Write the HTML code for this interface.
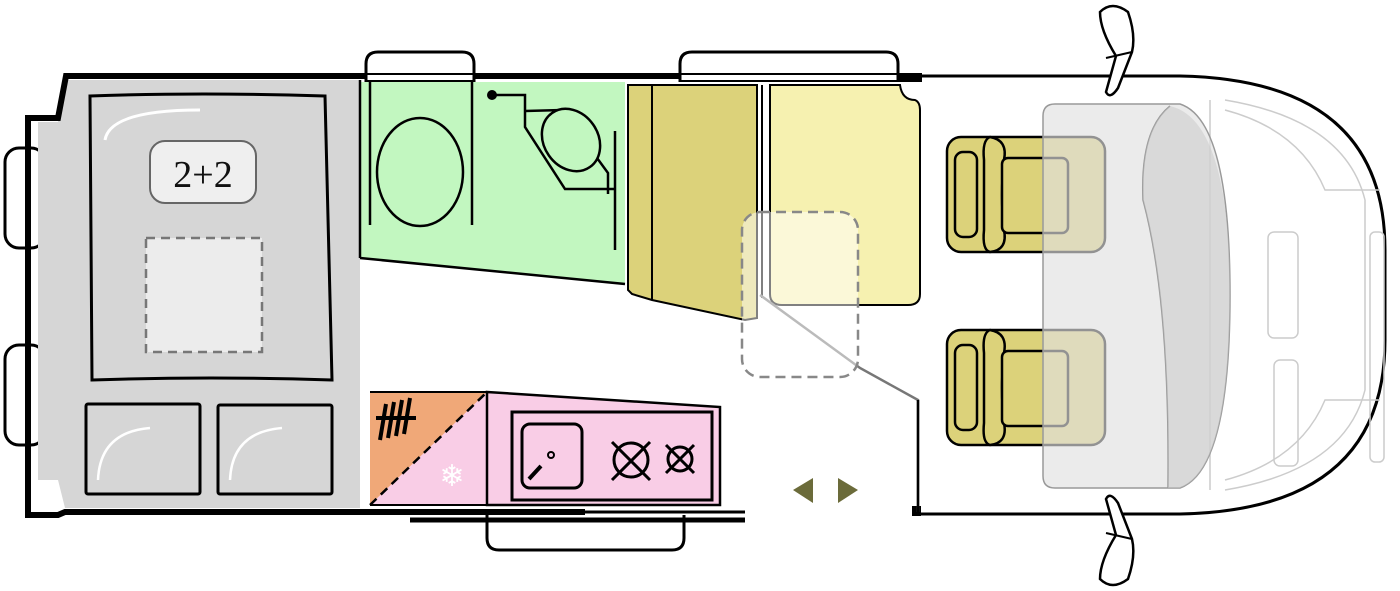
<!DOCTYPE html>
<html><head><meta charset="utf-8"><style>
html,body{margin:0;padding:0;background:#fff;width:1400px;height:591px;overflow:hidden}
svg{display:block}
</style></head><body>
<svg width="1400" height="591" viewBox="0 0 1400 591" xmlns="http://www.w3.org/2000/svg">
<!-- left bumps -->
<rect x="5" y="148" width="40" height="100" rx="14" fill="#fff" stroke="#000" stroke-width="3"/>
<rect x="5" y="345" width="40" height="100" rx="14" fill="#fff" stroke="#000" stroke-width="3"/>
<!-- top bumps -->
<path d="M366 82 V64 Q366 52 378 52 H462 Q474 52 474 64 V82" fill="#fff" stroke="#000" stroke-width="3"/>
<path d="M680 82 V64 Q680 52 692 52 H886 Q898 52 898 64 V82" fill="#fff" stroke="#000" stroke-width="3"/>
<!-- bottom bump -->
<path d="M487 515 V538 Q487 550 499 550 H672 Q684 550 684 538 V515" fill="#fff" stroke="#000" stroke-width="3"/>
<!-- cab outline -->
<path d="M900 76 H1180 Q1385 80 1385 250 V340 Q1385 510 1180 514 H918" fill="none" stroke="#000" stroke-width="3"/>
<g fill="none" stroke="#ccc" stroke-width="1.5">
<path d="M1225 100 Q1345 120 1365 200 V390 Q1345 470 1225 490"/>
<path d="M1225 110 Q1300 130 1325 190 H1380"/>
<path d="M1225 480 Q1300 460 1325 400 H1380"/>
<rect x="1268" y="232" width="30" height="106" rx="6"/>
<rect x="1274" y="360" width="24" height="106" rx="6"/>
<rect x="1370" y="232" width="14" height="230" rx="5"/>
<path d="M1210 100 V490"/>
</g>
<!-- mirrors -->
<path d="M1100 12 Q1112 0 1128 12 Q1136 35 1132 52 L1118 88 Q1110 100 1106 92 L1116 56 Q1100 30 1100 12Z" fill="#fff" stroke="#000" stroke-width="2.5"/>
<path d="M1106 58 L1132 52" stroke="#000" stroke-width="2"/>
<path d="M1100 579 Q1112 591 1128 579 Q1136 556 1132 539 L1118 503 Q1110 491 1106 499 L1116 535 Q1100 561 1100 579Z" fill="#fff" stroke="#000" stroke-width="2.5"/>
<path d="M1106 533 L1132 539" stroke="#000" stroke-width="2"/>
<!-- rear body gray -->
<path d="M65 80 H360 V508 H65 L58 480 H38 V122 H58 Z" fill="#d6d6d6"/>
<!-- outer black walls -->
<path d="M366 76 H66 L58 118 H28 V515 H58 L65 512 H585" fill="none" stroke="#000" stroke-width="6" stroke-linejoin="miter"/>
<path d="M474 76 H680" stroke="#000" stroke-width="6"/>
<path d="M366 74 H474 M366 81 H474 M680 74 H898 M680 81 H898" stroke="#000" stroke-width="2"/>
<path d="M585 512 H745" stroke="#000" stroke-width="3"/>
<path d="M410 520 H745" stroke="#000" stroke-width="5"/>
<rect x="898" y="73" width="24" height="9" fill="#000"/>
<rect x="912" y="506" width="9" height="10" fill="#000"/>
<!-- bed -->
<path d="M90 96 Q200 92 325 96 L332 380 Q210 376 92 380 Z" fill="#d6d6d6" stroke="#000" stroke-width="3"/>
<path d="M105 140 Q110 110 200 110" stroke="#fff" stroke-width="3" fill="none"/>
<rect x="150" y="141" width="106" height="62" rx="15" fill="#efefef" stroke="#666" stroke-width="2"/>
<text x="203" y="187" font-family="Liberation Serif, serif" font-size="38" text-anchor="middle" fill="#111">2+2</text>
<rect x="146" y="238" width="116" height="114" fill="#ececec" stroke="#777" stroke-width="2.5" stroke-dasharray="9,6"/>
<rect x="86" y="404" width="114" height="90" fill="#d6d6d6" stroke="#000" stroke-width="3" rx="2"/>
<rect x="218" y="405" width="114" height="89" fill="#d6d6d6" stroke="#000" stroke-width="3" rx="2"/>
<path d="M98 480 Q100 432 150 428" stroke="#fff" stroke-width="2.5" fill="none"/>
<path d="M230 480 Q232 432 282 428" stroke="#fff" stroke-width="2.5" fill="none"/>
<!-- bathroom -->
<path d="M360 82 H625 V284 L360 258 Z" fill="#c2f7c0"/>
<path d="M360 258 L625 284" stroke="#000" stroke-width="2.5"/>
<path d="M360 80 V258" stroke="#000" stroke-width="2.5"/>
<path d="M370 82 V225 M472 82 V225" stroke="#000" stroke-width="2.5" fill="none"/>
<ellipse cx="420" cy="172" rx="43" ry="54" fill="#c2f7c0" stroke="#000" stroke-width="2.5"/>
<circle cx="492" cy="95" r="5" fill="#000"/>
<path d="M492 95 H525 L525 102 V127 L565 189 H615" fill="none" stroke="#000" stroke-width="2.5"/>
<path d="M525 111 L562 110 L608 173 V194" fill="none" stroke="#000" stroke-width="2.5"/>
<path d="M615 131 V250" stroke="#000" stroke-width="2.5"/>
<ellipse cx="571" cy="140" rx="27" ry="33" transform="rotate(-35 571 140)" fill="#c2f7c0" stroke="#000" stroke-width="2.5"/>
<!-- wardrobe -->
<path d="M628 85 H757 V318 L745 320 L652 300 L632 294 L628 290 Z" fill="#dcd27a" stroke="#000" stroke-width="2"/>
<path d="M652 85 V300" stroke="#000" stroke-width="2"/>
<!-- table / seat -->
<path d="M770 85 H900 Q902 100 915 100 Q920 102 920 110 V294 Q920 305 908 305 H782 Q770 305 770 294 Z" fill="#f6f1b0" stroke="#000" stroke-width="2"/>
<path d="M762 85 V298" stroke="#000" stroke-width="2"/>
<path d="M760 295 L860 368 L918 400 V512" fill="none" stroke="#777" stroke-width="2.5"/>
<path d="M918 400 V512" stroke="#000" stroke-width="2.5"/>
<rect x="742" y="212" width="116" height="165" rx="18" fill="rgba(255,255,255,0.5)" stroke="#888" stroke-width="2.5" stroke-dasharray="10,6"/>
<!-- kitchen -->
<path d="M370 392 H487 V505 H370 Z" fill="#f9cde6"/>
<path d="M370 392 H487 L370 505 Z" fill="#f0a878"/>
<path d="M370 392 H487 V505 H370" fill="none" stroke="#000" stroke-width="2"/>
<path d="M370 505 L487 392" stroke="#000" stroke-width="2.5" stroke-dasharray="9,6"/>
<g stroke="#000" stroke-width="4" fill="none"><path d="M386 404 L380 440 M394 402 L388 438 M402 400 L396 436 M410 398 L404 434 M376 418 H416"/></g>
<text x="452" y="486" font-family="DejaVu Sans, sans-serif" font-size="30" fill="#fff" text-anchor="middle">❄</text>
<path d="M487 392 L720 407 V505 H487 Z" fill="#f9cde6" stroke="#000" stroke-width="2.5"/>
<rect x="512" y="412" width="200" height="88" fill="none" stroke="#000" stroke-width="3"/>
<rect x="522" y="424" width="60" height="64" rx="8" fill="none" stroke="#000" stroke-width="3"/>
<circle cx="551" cy="455" r="3" fill="none" stroke="#000" stroke-width="2"/>
<path d="M529 479 L541 466" stroke="#000" stroke-width="4"/>
<g fill="none" stroke="#000" stroke-width="3">
<circle cx="631" cy="460" r="17"/><path d="M612 442 L650 480 M650 442 L612 480"/>
<circle cx="680" cy="459" r="12"/><path d="M666 445 L694 473 M694 445 L666 473"/>
</g>
<!-- arrows -->
<path d="M813 478 L793 490 L813 503 Z" fill="#6b6b3a"/>
<path d="M838 478 L858 490 L838 503 Z" fill="#6b6b3a"/>
<!-- seats -->
<g stroke="#000" stroke-width="2.5" fill="#dcd27a">
<rect x="947" y="137" width="158" height="115" rx="14"/>
<path d="M990 137 Q1008 140 1004 160 Q1000 195 1004 230 Q1008 250 990 252 Q982 250 984 230 V160 Q982 140 990 137Z"/>
<rect x="1002" y="158" width="66" height="75" rx="6"/>
<rect x="955" y="152" width="22" height="85" rx="8"/>
<rect x="947" y="330" width="158" height="115" rx="14"/>
<path d="M990 330 Q1008 333 1004 353 Q1000 388 1004 423 Q1008 443 990 445 Q982 443 984 423 V353 Q982 333 990 330Z"/>
<rect x="1002" y="351" width="66" height="75" rx="6"/>
<rect x="955" y="345" width="22" height="85" rx="8"/>
</g>
<!-- dashboard overlay -->
<path d="M1055 104 H1180 Q1230 120 1230 295 Q1230 470 1180 488 H1055 Q1043 488 1043 476 V116 Q1043 104 1055 104Z" fill="rgba(225,225,225,0.65)" stroke="#999" stroke-width="1.5"/>
<path d="M1170 106 Q1140 130 1143 200 Q1170 300 1168 488" fill="none" stroke="#999" stroke-width="1.5"/>
<path d="M1170 106 Q1230 120 1230 295 Q1230 470 1180 488 L1168 488 Q1170 300 1143 200 Q1140 130 1170 106Z" fill="rgba(200,200,200,0.5)"/>
</svg>
</body></html>
